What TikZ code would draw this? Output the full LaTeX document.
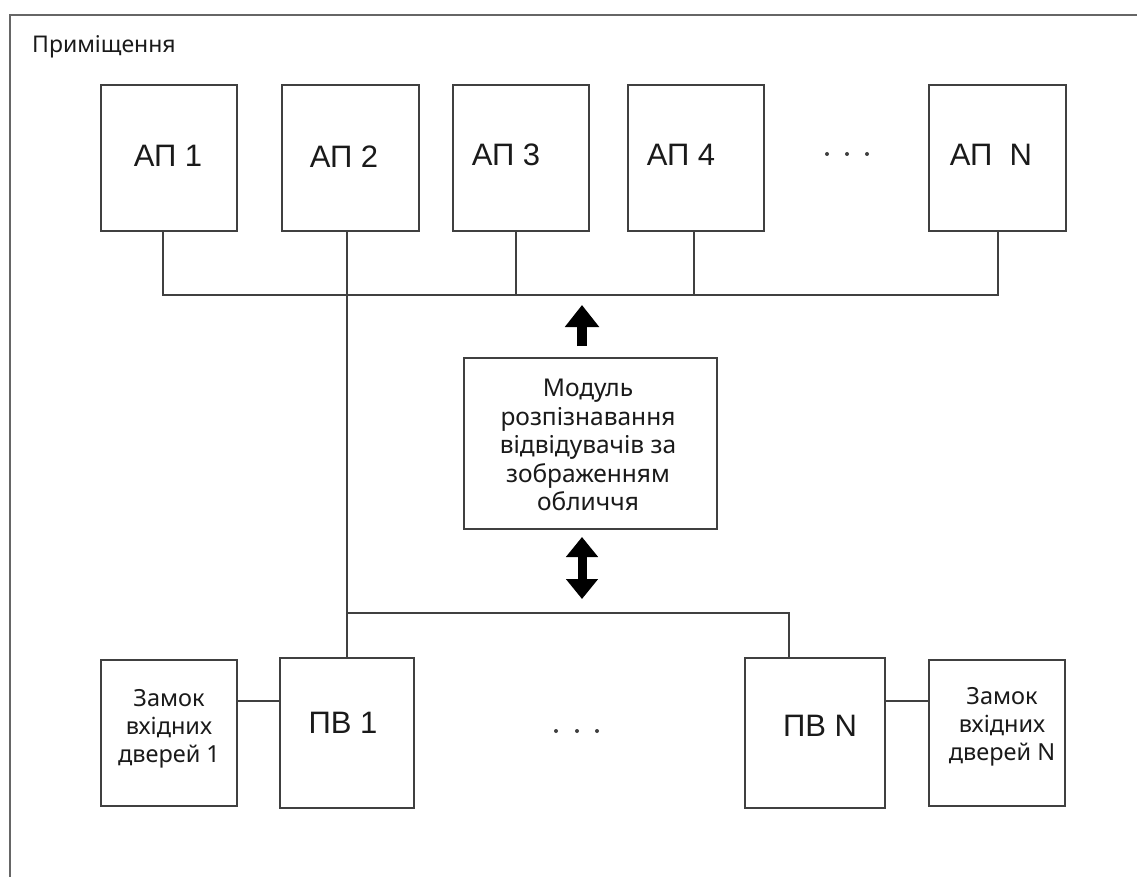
\documentclass[tikz,border=0pt]{standalone}
\usepackage{fontspec}
\setmainfont{Liberation Sans}
\newfontfamily\uifont{Noto Sans}
\usetikzlibrary{arrows.meta}
\definecolor{linec}{HTML}{404040}
\definecolor{txtc}{HTML}{1A1A1A}
\tikzset{
  bx/.style={draw=linec,line width=1.6pt,anchor=north west,inner sep=0pt},
  wire/.style={draw=linec,line width=1.5pt},
  frame/.style={draw=linec!80,line width=1.8pt},
  big/.style={font=\fontsize{31}{34}\selectfont,text=txtc,inner sep=0pt},
  small/.style={font=\uifont\fontsize{23.5}{28}\selectfont,text=txtc,align=center,inner sep=0pt},
  modtext/.style={font=\uifont\fontsize{24.5}{28.5}\selectfont,text=txtc,align=center,inner sep=0pt},
  blockarrow/.style={line width=10pt,-{Triangle[width=33pt,length=22pt]}},
  dblarrow/.style={line width=9pt,{Triangle[width=31pt,length=20pt]}-{Triangle[width=31pt,length=20pt]}},
  dot/.style={circle,fill=linec,inner sep=0pt,minimum size=4pt}
}
\begin{document}
\begin{tikzpicture}[x=1pt,y=-1pt]
\useasboundingbox (0,0) rectangle (1137,877);
\fill[white] (0,0) rectangle (1137,877);
% frame
\coordinate (fbl) at (10,877);
\coordinate (ftl) at (10,15);
\coordinate (ftr) at (1137,15);
\draw[frame] (fbl) -- (ftl) -- (ftr);
\node[font=\uifont\fontsize{23}{26}\selectfont,text=txtc,anchor=west,inner sep=0pt] (room) at (32,47) {Приміщення};

% access points
\node[bx,minimum width=136pt,minimum height=146pt] (ap1) at (100,84) {};
\node[bx,minimum width=137pt,minimum height=146pt] (ap2) at (281,84) {};
\node[bx,minimum width=136pt,minimum height=146pt] (ap3) at (452,84) {};
\node[bx,minimum width=136pt,minimum height=146pt] (ap4) at (627,84) {};
\node[bx,minimum width=137pt,minimum height=146pt] (apn) at (928,84) {};
\node[big] (t1) at (168,156) {АП 1};
\node[big] (t2) at (344,157) {АП 2};
\node[big] (t3) at (506,155) {АП 3};
\node[big] (t4) at (681,155) {АП 4};
\node[big] (tn) at (991,155) {АП\ \ N};
\node[dot] (d1) at (827,154) {};
\node[dot] (d2) at (847,154) {};
\node[dot] (d3) at (867,154) {};

% top bus
\coordinate (b1) at (163,295);
\coordinate (b2) at (347,295);
\coordinate (b3) at (516,295);
\coordinate (b4) at (694,295);
\coordinate (bn) at (998,295);
\draw[wire] (ap1.south -| b1) -- (b1) -- (bn) -- (apn.south -| bn);
\draw[wire] (ap3.south -| b3) -- (b3);
\draw[wire] (ap4.south -| b4) -- (b4);

% module
\node[bx,minimum width=253pt,minimum height=171pt] (mod) at (463,357) {};
\node[modtext] (modt) at (588,445) {Модуль\\розпізнавання\\відвідувачів за\\зображенням\\обличчя};
\coordinate (ua1) at (582,346);
\coordinate (ua2) at (582,305);
\draw[blockarrow,draw=black] (ua1) -- (ua2);
\coordinate (da1) at (582,537);
\coordinate (da2) at (582,599);
\draw[dblarrow,draw=black] (da1) -- (da2);

% lower part
\node[bx,minimum width=134pt,minimum height=150pt] (pv1) at (279,657) {};
\node[bx,minimum width=140pt,minimum height=150pt] (pvn) at (744,657) {};
\node[bx,minimum width=136pt,minimum height=146pt] (lk1) at (100,659) {};
\node[bx,minimum width=136pt,minimum height=146pt] (lkn) at (928,659) {};
\node[big] (tp1) at (343,723) {ПВ 1};
\node[big] (tpn) at (820,726) {ПВ N};
\node[small] (tl1) at (169,729) {Замок\\вхідних\\дверей 1};
\node[small] (tln) at (1002,727) {Замок\\вхідних\\дверей N};
\node[dot] (e1) at (556,731) {};
\node[dot] (e2) at (577,731) {};
\node[dot] (e3) at (597,731) {};

\coordinate (lb1) at (347,613);
\coordinate (lbn) at (789,613);
\draw[wire] (ap2.south -| lb1) -- (lb1) -- (pv1.north -| lb1);
\draw[wire] (lb1) -- (lbn) -- (pvn.north -| lbn);
\draw[wire] (lk1.east |- 0,701) -- (pv1.west |- 0,701);
\draw[wire] (pvn.east |- 0,701) -- (lkn.west |- 0,701);
\end{tikzpicture}
\end{document}
